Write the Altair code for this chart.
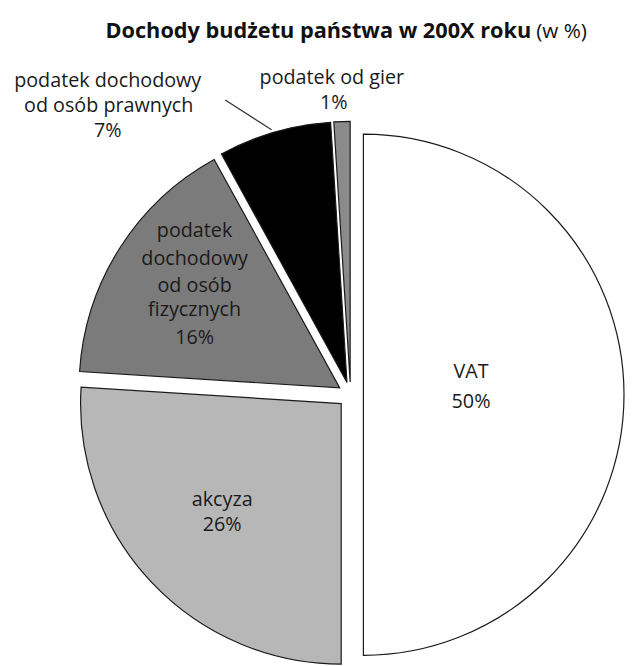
import altair as alt
import pandas as pd

# ---- data ----
categories = [
    "VAT",
    "akcyza",
    "podatek dochodowy od osób fizycznych",
    "podatek dochodowy od osób prawnych",
    "podatek od gier",
]
values = [50, 26, 16, 7, 1]
slice_colors = ["#ffffff", "#b7b7b7", "#7b7b7b", "#000000", "#8a8a8a"]
label_words = [
    ["VAT"],
    ["akcyza"],
    ["podatek", "dochodowy", "od osób", "fizycznych"],
    ["podatek dochodowy", "od osób prawnych"],
    ["podatek od gier"],
]
title_main = "Dochody budżetu państwa w 200X roku"
title_unit = "(w %)"

# ---- layout (pixels) ----
CX, CY, R, OFF = 347, 387.5, 264, 13
label_x = [[469, 469], [217, 217], [189, 189, 189, 189, 189], [101, 102, 101], [328, 330]]
label_y = [[365, 395], [494, 520], [222, 250, 277, 302, 330], [70, 95, 120], [67, 92]]

df = pd.DataFrame({"category": categories, "value": values, "order": list(range(len(values)))})

arcs = (
    alt.Chart(df)
    .transform_window(cum="sum(value)", sort=[alt.SortField("order")], frame=[None, 0])
    .transform_joinaggregate(total="sum(value)")
    .transform_calculate(t1="2*PI*(datum.cum - datum.value)/datum.total")
    .transform_calculate(t2="2*PI*datum.cum/datum.total")
    .transform_calculate(mid="(datum.t1 + datum.t2)/2")
    .transform_calculate(px=f"{CX} + {OFF}*sin(datum.mid)", py=f"{CY} - {OFF}*cos(datum.mid)")
    .mark_arc(radius=R, stroke="#1a1a1a", strokeWidth=1.2)
    .encode(
        theta=alt.Theta("t1:Q", scale=None, stack=None),
        theta2=alt.Theta2("t2:Q"),
        x=alt.X("px:Q", scale=None, axis=None),
        y=alt.Y("py:Q", scale=None, axis=None),
        color=alt.Color("category:N", scale=alt.Scale(domain=categories, range=slice_colors), legend=None),
    )
)

rows = []
for i, words in enumerate(label_words):
    lines = words + [f"{values[i]}%"]
    for j, t in enumerate(lines):
        rows.append({"text": t, "x": label_x[i][j], "y": label_y[i][j]})
ldf = pd.DataFrame(rows)

labels = (
    alt.Chart(ldf)
    .mark_text(font="Open Sans", fontSize=20, align="center", baseline="middle", color="#1a1a1a")
    .encode(
        x=alt.X("x:Q", scale=None, axis=None),
        y=alt.Y("y:Q", scale=None, axis=None),
        text="text:N",
    )
)

one = pd.DataFrame({"k": [0]})
leader = alt.Chart(one).mark_rule(color="#333333", strokeWidth=1.2).encode(
    x=alt.value(220), y=alt.value(89), x2=alt.value(267), y2=alt.value(119)
)

t_main = alt.Chart(one).mark_text(
    font="Open Sans", fontSize=22, fontWeight="bold", align="right", baseline="alphabetic", color="#111111"
).encode(x=alt.value(530), y=alt.value(26), text=alt.value(title_main))
t_unit = alt.Chart(one).mark_text(
    font="Open Sans", fontSize=21, align="left", baseline="alphabetic", color="#111111"
).encode(x=alt.value(535), y=alt.value(26), text=alt.value(title_unit))

chart = (
    alt.layer(arcs, leader, labels, t_main, t_unit)
    .properties(width=625, height=658, padding=0, autosize="none")
    .configure_view(stroke=None)
)

chart.save("out.html", embed_options={"renderer": "svg", "actions": False})
